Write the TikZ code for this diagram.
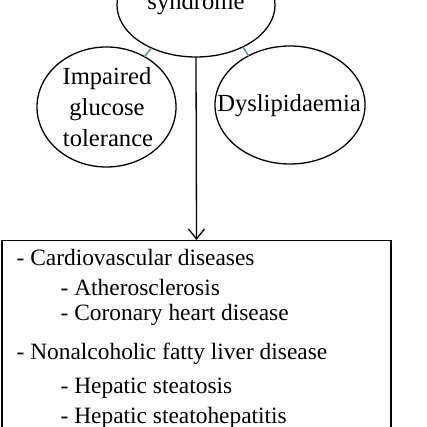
\documentclass[tikz,border=0pt]{standalone}
\usepackage{fontspec}
\setmainfont{Liberation Serif}
\usetikzlibrary{arrows.meta,shapes.geometric}
\definecolor{linkcol}{RGB}{104,145,160}

\begin{document}
\begin{tikzpicture}[x=0.5bp, y=-0.5bp, line width=0.65pt, line cap=round,
    font=\fontsize{11.7bp}{15.5bp}\selectfont,
    blob/.style={draw, ellipse, inner sep=0pt},
    word/.style={anchor=base, inner sep=0pt, font=\fontsize{12.3bp}{15.5bp}\selectfont},
    link/.style={draw=linkcol, line width=0.8pt},
    item/.style={anchor=base west, inner sep=0pt}]
  % crop of the figure (fixes the size)
  \useasboundingbox (0,0) rectangle (427,427);
  \clip (0,0) rectangle (427,427);

  % Ellipses
  \node[blob, minimum width=79bp, minimum height=52bp] (ms) at (196,5) {};
  \node[word] (mstext) at (196,10) {syndrome};
  \node[blob, minimum width=69.5bp, minimum height=60bp] (igt) at (106.5,107) {};
  \node[word] (igt1) at (107,85) {Impaired};
  \node[word] (igt2) at (107,116) {glucose};
  \node[word] (igt3) at (108,147) {tolerance};
  \node[blob, minimum width=75bp, minimum height=59bp] (dys) at (290,105) {};
  \node[word] (dystext) at (289,112) {Dyslipidaemia};

  % Links
  \draw[link] (ms.224) -- (igt.53);
  \draw[link] (ms.318) -- (dys.130);

  % Box of outcomes
  \node[draw, anchor=north, minimum width=194.5bp, minimum height=110bp] (box) at (196.5,240) {};
  \draw[-{Straight Barb[length=5bp, width=8bp]}] (ms.south) -- (box.north);

  \foreach \x/\y/\t [count=\i] in {16/265/{- Cardiovascular diseases},
      60/295/{- Atherosclerosis}, 60/320/{- Coronary heart disease},
      16/359/{- Nonalcoholic fatty liver disease},
      60/393/{- Hepatic steatosis}, 60/423/{- Hepatic steatohepatitis}}
    \node[item] (line\i) at (\x,\y) {\t};
\end{tikzpicture}
\end{document}
